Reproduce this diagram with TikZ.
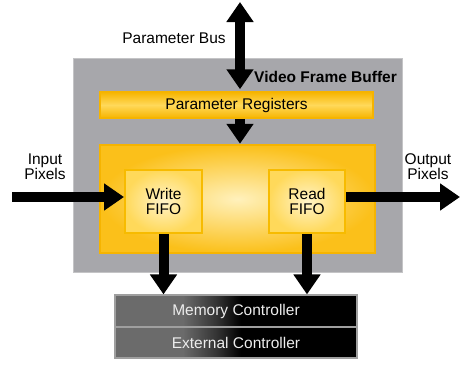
\documentclass[tikz,border=0pt]{standalone}
\usepackage{fontspec}
\setmainfont{Liberation Sans}
\usetikzlibrary{arrows.meta,calc}
\definecolor{grayfill}{HTML}{A7A7AB}
\definecolor{grayedge}{HTML}{C4C4C6}
\definecolor{orng}{HTML}{F6B400}
\definecolor{orngin}{HTML}{FFD95A}
\definecolor{cream}{HTML}{FFF1BC}
\definecolor{fifoin}{HTML}{FFF3C8}
\definecolor{deepy}{HTML}{FBC01A}
\definecolor{txtlight}{HTML}{EDEDED}
\pgfdeclarehorizontalshading{memshade}{100bp}{rgb(0bp)=(0.42,0.42,0.42); rgb(39bp)=(0.42,0.42,0.42); rgb(46bp)=(0.2,0.2,0.2); rgb(51bp)=(0,0,0); rgb(100bp)=(0,0,0)}
\tikzset{
  lbl/.style={font=\fontsize{15.5}{15}\selectfont, align=center, inner sep=0pt},
  bigarrow/.style={line width=10pt, -{Triangle[width=26pt,length=20pt]}},
  bigdarrow/.style={line width=10pt, {Triangle[width=26pt,length=20pt]}-{Triangle[width=26pt,length=20pt]}},
  graybox/.style={draw=grayedge, line width=1pt, fill=grayfill, inner sep=0pt},
  regbar/.style={draw=orng, line width=1.5pt, top color=orng, bottom color=orng, middle color=orngin, inner sep=0pt},
  bigbox/.style={draw=orng, line width=2.5pt, inner color=cream, outer color=deepy, inner sep=0pt},
  fifobox/.style={draw=orng!90!yellow, line width=2pt, inner color=fifoin, outer color=orngin, inner sep=0pt},
  membox/.style={draw=gray!75, line width=1.2pt, shading=memshade, inner sep=0pt, text=txtlight}
}
\begin{document}
\begin{tikzpicture}[x=1pt,y=-1pt]
\useasboundingbox (0,0) rectangle (467,372);
\fill[white] (0,0) rectangle (467,372);
\node[graybox, minimum width=329pt, minimum height=214pt] (gray) at (237.5,165) {};
\node[regbar, minimum width=273pt, minimum height=26pt] (params) at (236.5,105) {};
\node[lbl] at (params.center) {Parameter Registers};
\node[bigbox, minimum width=275pt, minimum height=108pt] (big) at (237.5,199) {};
\node[fifobox, minimum width=77pt, minimum height=63pt, lbl] (wfifo) at (163.5,201.5) {Write\\FIFO};
\node[fifobox, minimum width=76pt, minimum height=63pt, lbl] (rfifo) at (307,201.5) {Read\\FIFO};
\node[membox, minimum width=242pt, minimum height=32pt, lbl] (mem) at (236,311) {Memory Controller};
\node[membox, minimum width=242pt, minimum height=31pt, lbl] (ext) at (236,342.5) {External Controller};
\node[lbl] (buslbl) at (174,38) {Parameter Bus};
\node[lbl, anchor=west, font=\fontsize{15.5}{15}\selectfont\bfseries] (vfb) at (254,77) {Video Frame Buffer};
\node[lbl] (inlbl) at (45,167) {Input\\Pixels};
\node[lbl] (outlbl) at (428,167) {Output\\Pixels};
\coordinate (busTop) at (240,2);
\coordinate (inStart) at (12,197);
\coordinate (outEnd) at (460,197);
\draw[bigdarrow] (busTop) -- ($(busTop |- params.north)+(0,-2)$);
\draw[bigarrow] (busTop |- params.south) -- (busTop |- big.north);
\draw[bigarrow] (inStart) -- (wfifo.west |- inStart);
\draw[bigarrow] (rfifo.east |- outEnd) -- (outEnd);
\draw[bigarrow] (wfifo.south) -- (wfifo.south |- mem.north);
\draw[bigarrow] (rfifo.south) -- (rfifo.south |- mem.north);
\end{tikzpicture}
\end{document}
